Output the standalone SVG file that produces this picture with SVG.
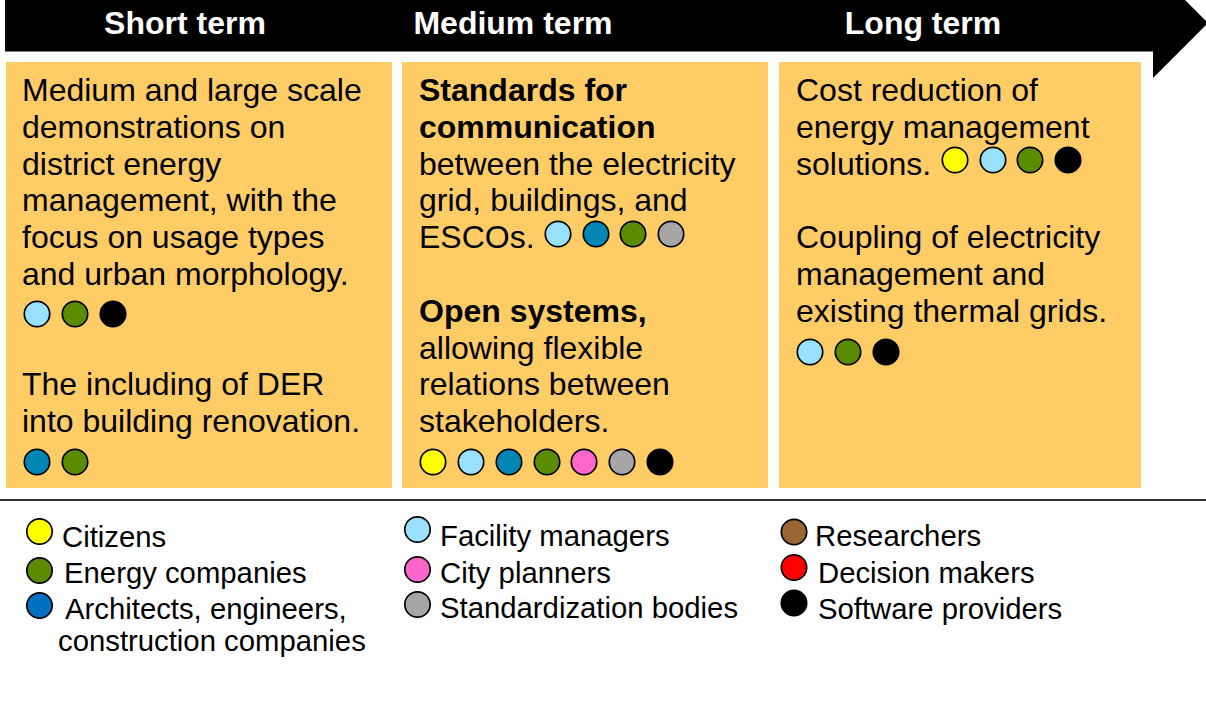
<svg xmlns="http://www.w3.org/2000/svg" width="1206" height="706" viewBox="0 0 1206 706">
<style>
.hdr{font-family:"Liberation Sans",Arial,sans-serif;font-size:32px;font-weight:bold;fill:#fff;text-anchor:middle}
.bx{fill:#FFCC66}
.t{font-family:"Liberation Sans",Arial,sans-serif;font-size:32px;fill:#000}
.b{font-weight:bold}
.lg{font-family:"Liberation Sans",Arial,sans-serif;font-size:29.3px;fill:#000}
circle{stroke:#000;stroke-width:1.7}
.y{fill:#FFFF00}.lb{fill:#99E1FF}.tb{fill:#0086B4}.g{fill:#5B8C00}.p{fill:#FF66CC}.gr{fill:#A6A6A6}.k{fill:#000}.ab{fill:#0070C0}.br{fill:#996633}.r{fill:#FF0000}
</style>
<rect width="1206" height="706" fill="#fff"/>
<g id="timeline">
<polygon points="5,-5 1153,-5 1153,-32 1208,23 1153,78 1153,51.5 5,51.5" fill="#000"/>
<text class="hdr" x="185" y="34">Short term</text>
<text class="hdr" x="513" y="34">Medium term</text>
<text class="hdr" x="923" y="34">Long term</text>
</g>
<g id="short-term">
<rect class="bx" x="6" y="62" width="386" height="426"/>
<text class="t" x="22" y="101">Medium and large scale</text>
<text class="t" x="22" y="137.8">demonstrations on</text>
<text class="t" x="22" y="174.6">district energy</text>
<text class="t" x="22" y="211.4">management, with the</text>
<text class="t" x="22" y="248.2">focus on usage types</text>
<text class="t" x="22" y="285">and urban morphology.</text>
<circle class="lb" cx="37" cy="314" r="12.7"/>
<circle class="g" cx="75" cy="314" r="12.7"/>
<circle class="k" cx="113" cy="314" r="12.7"/>
<text class="t" x="22" y="395.4">The including of DER</text>
<text class="t" x="22" y="432.2">into building renovation.</text>
<circle class="tb" cx="37" cy="462" r="12.7"/>
<circle class="g" cx="75" cy="462" r="12.7"/>
</g>
<g id="medium-term">
<rect class="bx" x="402" y="62" width="366" height="426"/>
<text class="t b" x="419" y="101">Standards for</text>
<text class="t b" x="419" y="137.8">communication</text>
<text class="t" x="419" y="174.6">between the electricity</text>
<text class="t" x="419" y="211.4">grid, buildings, and</text>
<text class="t" x="419" y="248.2">ESCOs.</text>
<circle class="lb" cx="558" cy="234" r="12.7"/>
<circle class="tb" cx="596" cy="234" r="12.7"/>
<circle class="g" cx="633" cy="234" r="12.7"/>
<circle class="gr" cx="671" cy="234" r="12.7"/>
<text class="t b" x="419" y="321.8">Open systems,</text>
<text class="t" x="419" y="358.6">allowing flexible</text>
<text class="t" x="419" y="395.4">relations between</text>
<text class="t" x="419" y="432.2">stakeholders.</text>
<circle class="y" cx="433" cy="462" r="12.7"/>
<circle class="lb" cx="471" cy="462" r="12.7"/>
<circle class="tb" cx="509" cy="462" r="12.7"/>
<circle class="g" cx="547" cy="462" r="12.7"/>
<circle class="p" cx="584" cy="462" r="12.7"/>
<circle class="gr" cx="622" cy="462" r="12.7"/>
<circle class="k" cx="660" cy="462" r="12.7"/>
</g>
<g id="long-term">
<rect class="bx" x="779" y="62" width="362" height="426"/>
<text class="t" x="796" y="101">Cost reduction of</text>
<text class="t" x="796" y="137.8">energy management</text>
<text class="t" x="796" y="174.6">solutions.</text>
<circle class="y" cx="955" cy="160" r="12.7"/>
<circle class="lb" cx="993" cy="160" r="12.7"/>
<circle class="g" cx="1030" cy="160" r="12.7"/>
<circle class="k" cx="1068" cy="160" r="12.7"/>
<text class="t" x="796" y="248.2">Coupling of electricity</text>
<text class="t" x="796" y="285">management and</text>
<text class="t" x="796" y="321.8">existing thermal grids.</text>
<circle class="lb" cx="810" cy="352" r="12.7"/>
<circle class="g" cx="848" cy="352" r="12.7"/>
<circle class="k" cx="886" cy="352" r="12.7"/>
</g>
<line x1="0" y1="500" x2="1206" y2="500" stroke="#333" stroke-width="2"/>
<g id="legend">
<circle class="y" cx="39.5" cy="531.5" r="12.7"/>
<text class="lg" x="62" y="546.5">Citizens</text>
<circle class="g" cx="39.5" cy="570.5" r="12.7"/>
<text class="lg" x="64" y="583">Energy companies</text>
<circle class="ab" cx="39.5" cy="605.5" r="12.7"/>
<text class="lg" x="65" y="618.5">Architects, engineers,</text>
<text class="lg" x="58" y="651">construction companies</text>
<circle class="lb" cx="417.5" cy="529.5" r="12.7"/>
<text class="lg" x="440" y="546">Facility managers</text>
<circle class="p" cx="417.5" cy="569.5" r="12.7"/>
<text class="lg" x="440" y="582.5">City planners</text>
<circle class="gr" cx="417.5" cy="604.5" r="12.7"/>
<text class="lg" x="440" y="618">Standardization bodies</text>
<circle class="br" cx="794" cy="532" r="12.7"/>
<text class="lg" x="815" y="546">Researchers</text>
<circle class="r" cx="794" cy="567.5" r="12.7"/>
<text class="lg" x="818" y="582.5">Decision makers</text>
<circle class="k" cx="794" cy="603" r="12.7"/>
<text class="lg" x="818" y="618.5">Software providers</text>
</g>
</svg>
